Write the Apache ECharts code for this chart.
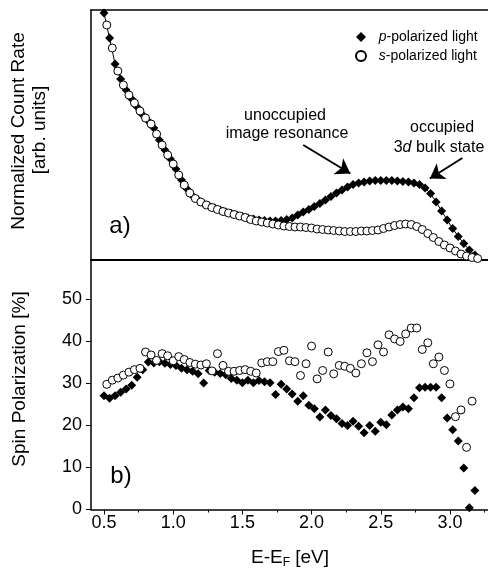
<!DOCTYPE html>
<html>
<head>
<meta charset="utf-8">
<script src="https://cdn.jsdelivr.net/npm/echarts@6/dist/echarts.min.js"></script>
<style>
  html, body { margin: 0; padding: 0; background: #fff; }
  #chart { width: 488px; height: 575px; }
</style>
</head>
<body>
<div id="chart"></div>
<script>
// Photon energy grids (eV above the Fermi level)
const pEnergy = [0.50,0.54,0.58,0.62,0.66,0.70,0.74,0.78,0.82,0.86,0.90,0.94,0.98,1.02,1.06,1.10,1.14,1.18,1.22,1.26,
  1.30,1.34,1.38,1.42,1.46,1.50,1.54,1.58,1.62,1.66,1.70,1.74,1.78,1.82,1.86,1.90,1.94,1.98,2.02,2.06,
  2.10,2.14,2.18,2.22,2.26,2.30,2.34,2.38,2.42,2.46,2.50,2.54,2.58,2.62,2.66,2.70,2.74,2.78,2.82,2.86,
  2.90,2.94,2.98,3.02,3.06,3.10,3.14,3.18];
const sEnergy = [0.52,0.56,0.60,0.64,0.68,0.72,0.76,0.80,0.84,0.88,0.92,0.96,1.00,1.04,1.08,1.12,1.16,1.20,1.24,1.28,
  1.32,1.36,1.40,1.44,1.48,1.52,1.56,1.60,1.64,1.68,1.72,1.76,1.80,1.84,1.88,1.92,1.96,2.00,2.04,2.08,
  2.12,2.16,2.20,2.24,2.28,2.32,2.36,2.40,2.44,2.48,2.52,2.56,2.60,2.64,2.68,2.72,2.76,2.80,2.84,2.88,
  2.92,2.96,3.00,3.04,3.08,3.12,3.16,3.20];

// a) normalized count rate, arbitrary units
const pCountRate = [98.8,88.8,78.4,72.4,68.0,64.4,61.2,58.0,55.6,52.8,48.0,44.0,40.4,36.4,32.0,28.4,25.6,24.0,22.6,21.6,
  20.8,20.0,19.2,18.6,18.0,17.4,16.8,16.4,16.0,15.8,15.6,15.6,15.8,16.2,16.8,18.0,19.2,20.2,21.4,22.6,
  24.0,25.4,26.8,28.0,29.2,30.2,30.8,31.2,31.6,31.8,31.8,31.8,31.8,31.6,31.4,31.2,30.8,30.2,28.8,26.6,
  23.2,19.6,16.0,12.6,9.4,6.6,4.0,2.0];
const sCountRate = [94.0,84.8,75.6,70.0,66.0,62.8,59.6,56.8,54.4,50.4,46.0,42.0,38.4,34.0,30.0,26.8,24.6,23.2,22.0,21.0,
  20.2,19.4,18.8,18.2,17.6,17.0,16.2,15.6,15.2,14.8,14.4,14.0,13.6,13.4,13.2,13.2,13.0,12.8,12.4,12.2,
  12.0,11.8,11.6,11.4,11.4,11.4,11.6,11.6,11.8,12.0,12.6,13.2,13.8,14.2,14.4,14.2,13.4,12.2,10.6,9.0,
  7.4,6.0,4.8,3.6,2.4,1.6,1.0,0.6];

// b) spin polarization in percent
const pSpinPol = [27.1,26.5,27.1,27.9,28.7,29.6,31.5,33.3,35.1,34.9,35.2,34.8,34.5,34.3,33.6,33.3,32.9,32.3,30.1,33.1,
  32.7,32.4,32.1,31.2,30.8,30.2,30.8,30.2,30.7,30.4,30.2,27.4,29.8,28.7,27.5,25.8,27.1,24.8,24.0,22.0,
  23.7,22.4,21.6,20.5,20.0,21.0,19.8,18.3,20.0,18.6,20.8,20.2,22.5,23.7,24.4,24.0,26.6,29.0,29.1,29.1,
  29.1,26.6,21.8,19.0,16.3,9.9,0.4,4.5];
const sSpinPol = [29.8,30.8,31.3,32.0,32.7,33.3,33.6,37.5,36.8,35.5,37.1,36.6,35.4,36.4,35.7,35.0,34.6,34.4,34.7,33.0,
  37.1,34.3,32.9,32.9,33.1,33.3,32.9,32.5,34.9,35.2,35.2,37.6,37.9,35.4,35.2,31.9,34.7,38.9,31.1,33.1,
  37.5,32.3,34.3,34.1,33.6,32.5,34.7,37.3,35.2,39.2,37.5,41.6,40.6,40.0,41.8,43.2,43.2,38.1,39.7,34.7,
  36.3,33.1,29.9,22.1,23.7,14.8,25.8,null];

// axis ticks and labels
const xMajor = [0.5, 1.0, 1.5, 2.0, 2.5, 3.0];
const xMinor = [0.75, 1.25, 1.75, 2.25, 2.75, 3.25];
const yMajor = [0, 10, 20, 30, 40, 50];
const yMinor = [5, 15, 25, 35, 45, 55];

const FONT = 'Liberation Sans, Arial, Helvetica, sans-serif';
const X_MIN = 0.406, X_MAX = 3.275;

// arrows of the annotations, in data units of panel a)
const arrowResonance = [[1.94, 46.0], [2.28, 34.6]];
const arrowBulk = [[3.09, 40.8], [2.855, 32.6]];

function pairs(xs, ys) {
  return xs.map((x, i) => [x, ys[i]]).filter(d => d[1] != null);
}

const black = '#000';
const lineAxis = (w) => ({ show: true, lineStyle: { color: black, width: w } });

const chart = echarts.init(document.getElementById('chart'), null, { renderer: 'canvas' });

const labelText = (text, x, y, size, extra) => ({
  type: 'text', x: x, y: y, silent: true,
  style: Object.assign({ text: text, fontFamily: FONT, fontSize: size, fill: black,
    align: 'center', verticalAlign: 'middle' }, extra || {})
});

chart.setOption({
  animation: false,
  backgroundColor: '#fff',
  grid: [
    { left: 91, top: 10, width: 397, height: 250 },
    { left: 91, top: 260, width: 397, height: 249.5 }
  ],
  xAxis: [
    { gridIndex: 0, type: 'value', min: X_MIN, max: X_MAX, position: 'bottom',
      axisLine: lineAxis(2), axisTick: { show: false }, axisLabel: { show: false }, splitLine: { show: false } },
    { gridIndex: 0, type: 'value', min: X_MIN, max: X_MAX, position: 'top',
      axisLine: lineAxis(1.5), axisTick: { show: false }, axisLabel: { show: false }, splitLine: { show: false } },
    { gridIndex: 1, type: 'value', min: X_MIN, max: X_MAX, position: 'bottom',
      axisLine: lineAxis(1.5),
      axisTick: { show: true, length: 5, customValues: xMajor, lineStyle: { color: black, width: 1 } },
      axisLabel: { show: true, customValues: xMajor, margin: 5, color: black, fontFamily: FONT, fontSize: 18,
        formatter: v => v.toFixed(1) },
      splitLine: { show: false } },
    { gridIndex: 1, type: 'value', min: X_MIN, max: X_MAX, position: 'bottom',
      axisLine: { show: false },
      axisTick: { show: true, length: 3, customValues: xMinor, lineStyle: { color: black, width: 1 } },
      axisLabel: { show: false }, splitLine: { show: false } }
  ],
  yAxis: [
    { gridIndex: 0, type: 'value', min: 0, max: 100,
      axisLine: lineAxis(1.5), axisTick: { show: false }, axisLabel: { show: false }, splitLine: { show: false } },
    { gridIndex: 1, type: 'value', min: 0, max: 59.4,
      axisLine: lineAxis(1.5),
      axisTick: { show: true, length: 5, customValues: yMajor, lineStyle: { color: black, width: 1 } },
      axisLabel: { show: true, customValues: yMajor, margin: 9, color: black, fontFamily: FONT, fontSize: 18 },
      splitLine: { show: false } },
    { gridIndex: 1, type: 'value', min: 0, max: 59.4,
      axisLine: { show: false },
      axisTick: { show: true, length: 3, customValues: yMinor, lineStyle: { color: black, width: 1 } },
      axisLabel: { show: false }, splitLine: { show: false } }
  ],
  legend: {
    orient: 'vertical', left: 350, top: 25, itemWidth: 10, itemHeight: 10, itemGap: 5,
    data: [ { name: 'p-polarized light', icon: 'diamond' }, { name: 's-polarized light', icon: 'circle' } ],
    formatter: n => n.charAt(0) === 'p' ? '  {i|p}-polarized light' : '  {i|s}-polarized light',
    textStyle: { fontFamily: FONT, fontSize: 14, lineHeight: 14, color: black,
      rich: { i: { fontFamily: FONT, fontSize: 14, fontStyle: 'italic', color: black } } }
  },
  series: [
    { name: 'p-polarized light', type: 'line', xAxisIndex: 0, yAxisIndex: 0, clip: false, z: 2,
      data: pairs(pEnergy, pCountRate), symbol: 'diamond', symbolSize: 9, showAllSymbol: true,
      lineStyle: { color: black, width: 1 }, itemStyle: { color: black, opacity: 1 } },
    { name: 's-polarized light', type: 'scatter', xAxisIndex: 0, yAxisIndex: 0, clip: false, z: 3,
      data: pairs(sEnergy, sCountRate), symbol: 'circle', symbolSize: 8,
      itemStyle: { color: '#fff', borderColor: black, borderWidth: 1, opacity: 1 } },
    { name: 'p-polarized light', type: 'scatter', xAxisIndex: 2, yAxisIndex: 1, clip: false, z: 2,
      data: pairs(pEnergy, pSpinPol), symbol: 'diamond', symbolSize: 9,
      itemStyle: { color: black, opacity: 1 } },
    { name: 's-polarized light', type: 'scatter', xAxisIndex: 2, yAxisIndex: 1, clip: false, z: 3,
      data: pairs(sEnergy, sSpinPol), symbol: 'circle', symbolSize: 8,
      itemStyle: { color: '#fff', borderColor: black, borderWidth: 1, opacity: 1 } },
    // annotation arrows drawn above the markers
    { name: 'arrows', type: 'line', xAxisIndex: 0, yAxisIndex: 0, data: [], z: 10, silent: true,
      markLine: {
        silent: true, symbol: ['none', 'arrow'], symbolSize: 14, z: 10,
        label: { show: false }, lineStyle: { color: black, width: 2, type: 'solid', opacity: 1 },
        itemStyle: { color: black },
        data: [
          [ { coord: arrowResonance[0] }, { coord: arrowResonance[1] } ],
          [ { coord: arrowBulk[0] }, { coord: arrowBulk[1] } ]
        ]
      } }
  ],
  graphic: [
    Object.assign(labelText('Normalized Count Rate', 19, 131, 19), { rotation: Math.PI / 2 }),
    Object.assign(labelText('[arb. units]', 40, 130, 19), { rotation: Math.PI / 2 }),
    Object.assign(labelText('Spin Polarization [%]', 20, 379, 19), { rotation: Math.PI / 2 }),
    labelText('unoccupied', 285, 116, 16),
    labelText('image resonance', 287, 134, 16),
    labelText('occupied', 442, 128, 16),
    labelText('3{i|d} bulk state', 439, 148, 16,
      { rich: { i: { fontFamily: FONT, fontSize: 16, fontStyle: 'italic', fill: black } } }),
    labelText('a)', 120, 226, 24),
    labelText('b)', 121, 476, 24),
    labelText('E-E{sub|F} [eV]', 290, 558, 19, {
      lineHeight: 22,
      rich: { sub: { fontFamily: FONT, fontSize: 12, lineHeight: 12, verticalAlign: 'bottom', fill: black } } })
  ]
});
</script>
</body>
</html>
